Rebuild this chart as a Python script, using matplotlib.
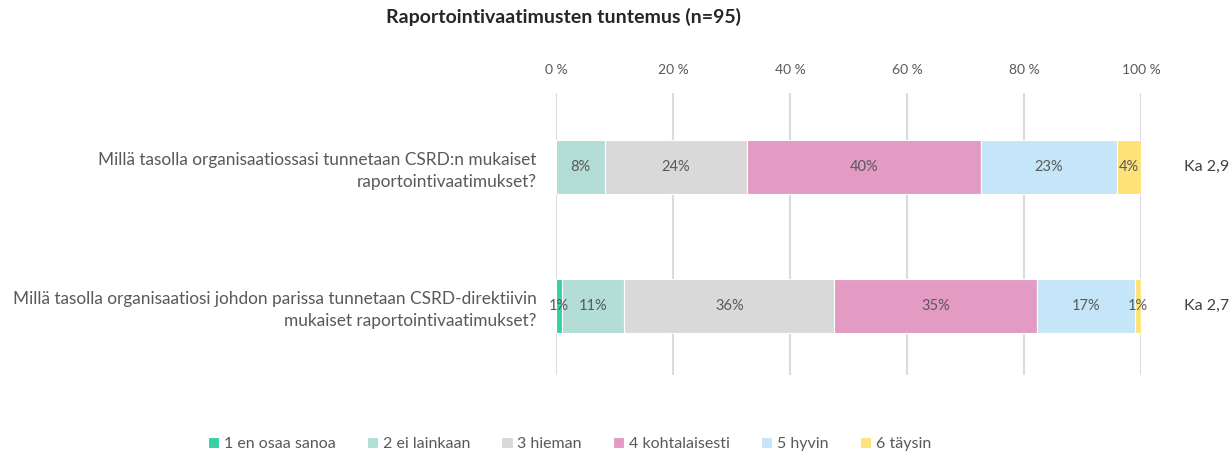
import matplotlib
matplotlib.use("Agg")
import matplotlib.pyplot as plt
import numpy as np

plt.rcParams['font.family'] = ['Lato', 'DejaVu Sans']

title = "Raportointivaatimusten tuntemus (n=95)"
questions = [
    "Millä tasolla organisaatiossasi tunnetaan CSRD:n mukaiset\nraportointivaatimukset?",
    "Millä tasolla organisaatiosi johdon parissa tunnetaan CSRD-direktiivin\nmukaiset raportointivaatimukset?",
]
categories = ["1 en osaa sanoa", "2 ei lainkaan", "3 hieman", "4 kohtalaisesti", "5 hyvin", "6 täysin"]
q1_values = [0.0, 8.4, 24.2, 40.0, 23.2, 4.2]
q2_values = [1.1, 10.6, 35.8, 34.6, 16.8, 1.1]
averages = ["Ka 2,9", "Ka 2,7"]
xticks = [0, 20, 40, 60, 80, 100]
xtick_labels = ["0 %", "20 %", "40 %", "60 %", "80 %", "100 %"]

colors = ["#33D1A5", "#B2DED5", "#D9D9D9", "#E39BC3", "#C5E6F8", "#FDE27A"]
text_col = "#595959"

fig = plt.figure(figsize=(12.3, 4.55), dpi=100)
ax = fig.add_axes([0.452, 0.176, 0.476, 0.62])

data = np.array([q1_values, q2_values])
ypos = np.arange(len(questions))
left = np.zeros(len(questions))
for j, cat in enumerate(categories):
    vals = data[:, j]
    ax.barh(ypos, vals, left=left, height=0.39, color=colors[j], label=cat,
            edgecolor="white", linewidth=0.8, zorder=3)
    for i in range(len(questions)):
        if vals[i] > 0:
            ax.text(left[i] + vals[i] / 2, ypos[i], f"{round(vals[i])}%", ha="center", va="center",
                    fontsize=10.5, color=text_col, zorder=4)
    left += vals

ax.set_xlim(0, 100)
ax.set_ylim(1.496, -0.532)
ax.set_xticks(xticks)
ax.set_xticklabels(xtick_labels, fontsize=10, color=text_col)
ax.xaxis.tick_top()
ax.tick_params(axis="x", length=0, pad=12)
ax.set_yticks(ypos)
ax.set_yticklabels(questions, fontsize=12.4, color=text_col, ha="right", linespacing=1.45)
ax.tick_params(axis="y", length=0, pad=14)
ax.grid(axis="x", color="#DADAE2", linewidth=1.5, zorder=0)
for s in ax.spines.values():
    s.set_visible(False)

for i, a in enumerate(averages):
    ax.text(1.073, ypos[i], a, transform=ax.get_yaxis_transform(), ha="left", va="center",
            fontsize=11.5, color="#404040")

fig.text(0.458, 0.963, title, ha="center", va="center", fontsize=14, fontweight="bold", color="#262626")

handles, labels = ax.get_legend_handles_labels()
leg = fig.legend(handles, labels, loc="center", bbox_to_anchor=(0.463, 0.024), ncol=6, frameon=False,
                 fontsize=11.5, handlelength=0.7, handleheight=0.7, handletextpad=0.3, columnspacing=1.95)
for t in leg.get_texts():
    t.set_color(text_col)

fig.savefig("out.png", dpi=100)
